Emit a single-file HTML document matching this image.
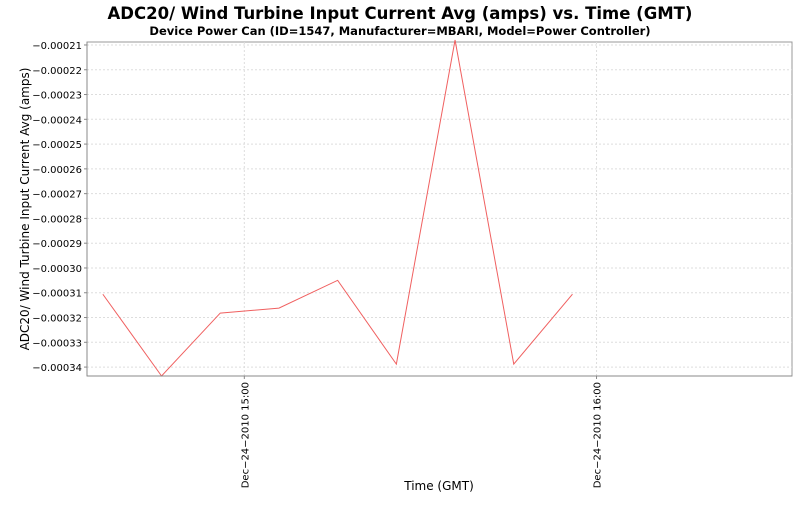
<!DOCTYPE html>
<html><head><meta charset="utf-8"><style>
body{margin:0;background:#fff;width:800px;height:500px;overflow:hidden}
svg{font-family:"DejaVu Sans","Liberation Sans",sans-serif}
</style></head><body>
<svg id="chart" width="800" height="500">
<text x="400" y="19" text-anchor="middle" font-size="16.5" font-weight="bold">ADC20/ Wind Turbine Input Current Avg (amps) vs. Time (GMT)</text>
<text x="400" y="35" text-anchor="middle" font-size="11.5" font-weight="bold">Device Power Can (ID=1547, Manufacturer=MBARI, Model=Power Controller)</text>
<rect x="87" y="42" width="705" height="334" fill="#fff" stroke="#999"/>
<g id="grid"></g><g id="yticks"></g><g id="xticks"></g>
<polyline id="series" fill="none" stroke="#f06060" stroke-width="1"/>
<line x1="87" y1="42" x2="87" y2="376" stroke="#888"/>
<line x1="87" y1="376" x2="792" y2="376" stroke="#888"/>
<text transform="translate(29,209) rotate(-90)" text-anchor="middle" font-size="12">ADC20/ Wind Turbine Input Current Avg (amps)</text>
<text x="439" y="490" text-anchor="middle" font-size="12">Time (GMT)</text>
</svg>
<script>
const minutes=[-24.1,-14.1,-4.1,5.9,15.9,25.9,35.9,45.9,55.9];
const values=[-0.0003106,-0.0003436,-0.0003182,-0.0003162,-0.000305,-0.0003388,-0.000208,-0.0003388,-0.0003106];
const yTicks=[-0.00021,-0.00022,-0.00023,-0.00024,-0.00025,-0.00026,-0.00027,-0.00028,-0.00029,-0.00030,-0.00031,-0.00032,-0.00033,-0.00034];
const xTicks=[0,60];
const xTickLabels=["Dec-24-2010 15:00","Dec-24-2010 16:00"];
const L=87,R=792,T=42,B=376;
const xmin=-26.8,xmax=93.3,ymin=-0.0003436,ymax=-0.0002088;
const X=m=>L+(m-xmin)/(xmax-xmin)*(R-L);
const Y=v=>B-(v-ymin)/(ymax-ymin)*(B-T);
const ns="http://www.w3.org/2000/svg";
const g=document.getElementById('grid'),yt=document.getElementById('yticks'),xt=document.getElementById('xticks');
function mk(t,a,p){const e=document.createElementNS(ns,t);for(const k in a)e.setAttribute(k,a[k]);p.appendChild(e);return e;}
yTicks.forEach(v=>{const y=Y(v);
 const gl=mk('line',{x1:L,x2:R,y1:y,y2:y,stroke:'#ddd','stroke-dasharray':'2,2'},g);
 
 
 const tk=mk('line',{x1:L-3,x2:L,y1:y,y2:y,stroke:'#888'},yt);
 
 
 const tx=mk('text',{x:L-5,y:y+4,'text-anchor':'end','font-size':'10'},yt);
 
 
 tx.textContent='\u2212'+Math.abs(v).toFixed(5);});
xTicks.forEach((m,i)=>{const x=X(m);
 const gl=mk('line',{x1:x,x2:x,y1:T,y2:B,stroke:'#ddd','stroke-dasharray':'2,2'},g);
 
 
 const tk=mk('line',{x1:x,x2:x,y1:B,y2:B+3,stroke:'#888'},xt);
 
 
 const tx=mk('text',{transform:`translate(${x+4},${B+6}) rotate(-90)`,'text-anchor':'end','font-size':'10'},xt);
 
 
 tx.textContent=xTickLabels[i].replace(/-/g,'\u2212');});
document.getElementById('series').setAttribute('points',minutes.map((m,i)=>X(m)+','+Y(values[i])).join(' '));
</script>
</body></html>
